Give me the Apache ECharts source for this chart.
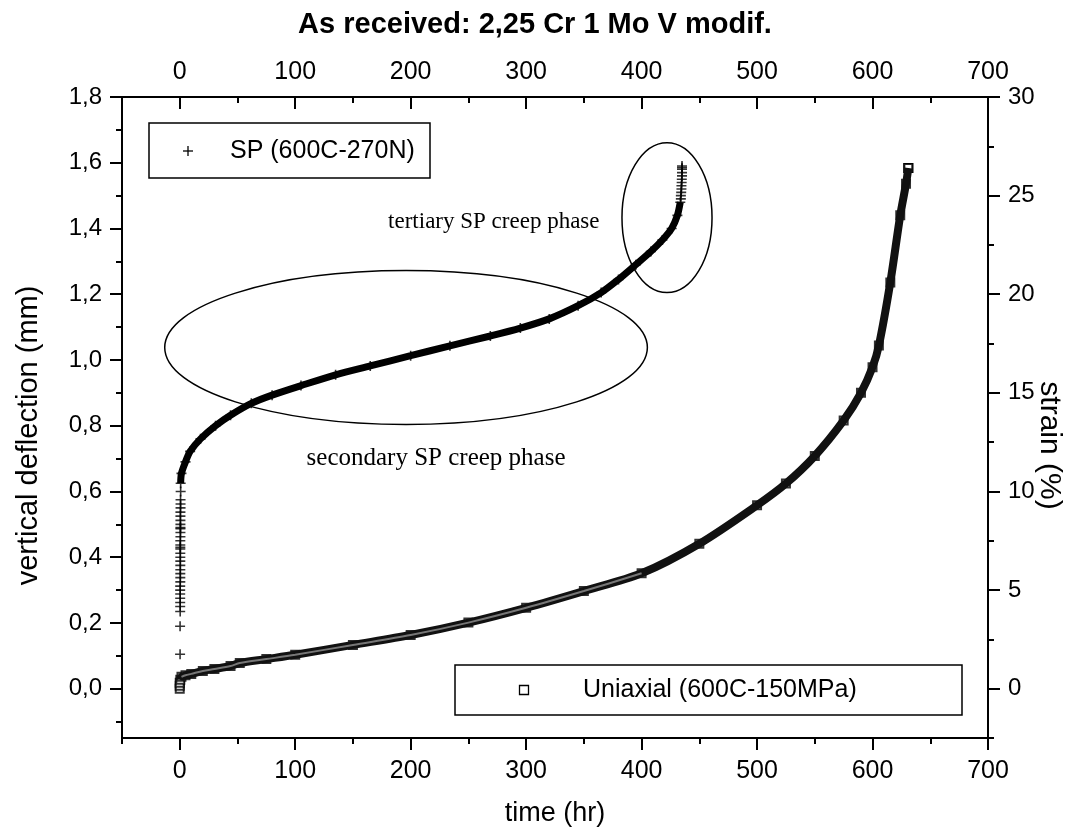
<!DOCTYPE html>
<html>
<head>
<meta charset="utf-8">
<title>As received: 2,25 Cr 1 Mo V modif.</title>
<script src="https://cdn.jsdelivr.net/npm/echarts@6/dist/echarts.min.js"></script>
<style>
  html, body { margin: 0; padding: 0; background: #fff; }
  #main { width: 1070px; height: 834px; }
</style>
</head>
<body>
<div id="main"></div>
<script>
// SP test (600C-270N): time (hr) vs vertical deflection (mm)
var spTime = [
  0.3, 0.3,
  0.4, 0.4, 0.4, 0.4, 0.4, 0.4, 0.4, 0.5, 0.5, 0.5, 0.5, 0.5, 0.5, 0.5, 0.5, 0.5,
  0.5, 0.5, 0.5, 0.6, 0.6, 0.6, 0.6, 0.6, 0.6, 0.6, 0.6, 0.7, 0.7, 0.7, 0.8, 0.8,
  1.5, 5, 9, 18, 31, 44, 62, 80, 105, 135, 165, 200, 234, 269, 295, 320,
  345, 365, 380, 395, 408, 418, 426, 431, 433.5,
  434, 434, 434.3, 434.5, 434.5, 434.7, 434.8, 435, 435, 435, 435, 435
];
var spDeflection = [
  0.105, 0.19,
  0.235, 0.25, 0.262, 0.275, 0.288, 0.30, 0.312, 0.325, 0.338, 0.35, 0.362, 0.375,
  0.388, 0.40, 0.412, 0.425, 0.43, 0.437, 0.45, 0.462, 0.475, 0.487, 0.49, 0.50,
  0.512, 0.525, 0.537, 0.55, 0.562, 0.575, 0.60, 0.625,
  0.655, 0.69, 0.722, 0.76, 0.80, 0.832, 0.868, 0.893, 0.922, 0.955, 0.982,
  1.013, 1.043, 1.073, 1.097, 1.125, 1.165, 1.205, 1.245, 1.29, 1.33, 1.365, 1.40,
  1.44, 1.48,
  1.49, 1.50, 1.51, 1.52, 1.53, 1.54, 1.55, 1.56, 1.57, 1.58, 1.585, 1.59
];
// where the crosses merge into a solid band
var spBandStart = 33, spBandEnd = 58;

// Uniaxial test (600C-150MPa): time (hr) vs strain (%)
var uniTime = [
  0, 0, 0, 0.5, 1.5, 5, 10, 20, 30, 44, 52, 75, 100, 150, 200, 250, 300, 350,
  400, 450, 500, 525, 550, 575, 590, 600, 605.5, 615.4, 624, 629, 631
];
var uniStrain = [
  0.0, 0.15, 0.3, 0.45, 0.6, 0.68, 0.75, 0.9, 1.0, 1.15, 1.3, 1.5, 1.72, 2.22,
  2.72, 3.35, 4.1, 4.95, 5.85, 7.35, 9.3, 10.4, 11.8, 13.6, 15.0, 16.3, 17.4,
  20.6, 24.0, 25.6, 26.4
];
var uniBandStart = 3, uniHollowEnd = 18;

// axes
var timeTicks = [0, 100, 200, 300, 400, 500, 600, 700];
var timeMinor = [-50, 50, 150, 250, 350, 450, 550, 650];
var deflTicks = [0, 0.2, 0.4, 0.6, 0.8, 1.0, 1.2, 1.4, 1.6, 1.8];
var deflMinor = [-0.1, 0.1, 0.3, 0.5, 0.7, 0.9, 1.1, 1.3, 1.5, 1.7];
var strainTicks = [0, 5, 10, 15, 20, 25, 30];
var strainMinor = [-2.5, 2.5, 7.5, 12.5, 17.5, 22.5, 27.5];

// annotations, in data coordinates (time, deflection)
var ellipses = [
  { t: 196, d: 1.038, rt: 209, rd: 0.234 },
  { t: 422, d: 1.433, rt: 39, rd: 0.228 }
];
var notes = [
  { text: 'tertiary SP creep phase', t: 272, d: 1.42, size: 23 },
  { text: 'secondary SP creep phase', t: 222, d: 0.70, size: 25 }
];

var SP_NAME = 'SP (600C-270N)';
var UNI_NAME = 'Uniaxial (600C-150MPa)';
var PLUS = 'path://M4.2,0H5.8V4.2H10V5.8H5.8V10H4.2V5.8H0V4.2H4.2Z';
var FONT = "'Liberation Sans', Arial, sans-serif";
var SERIF = "'Liberation Serif', 'Times New Roman', serif";

function zip(xs, ys, from, to) {
  var out = [];
  for (var i = from; i < to; i++) out.push([xs[i], ys[i]]);
  return out;
}

function comma(v) {
  return v.toFixed(1).replace('.', ',');
}

var myChart = echarts.init(document.getElementById('main'));

var axisLine = { show: true, onZero: false, lineStyle: { color: '#000', width: 2 } };
var noLine = { show: false, onZero: false };

function xAx(pos, values, len, inside, labels) {
  return {
    type: 'value', position: pos, min: -50, max: 700,
    axisLine: labels ? axisLine : noLine,
    splitLine: { show: false },
    axisTick: { show: true, customValues: values, length: len, inside: inside,
                lineStyle: { color: '#000', width: 2 } },
    axisLabel: labels ? { customValues: values, margin: pos === 'top' ? 12 : 21,
                          color: '#000', fontSize: 25, fontFamily: FONT }
                      : { show: false }
  };
}

function yAx(pos, min, max, values, len, labels, fmt) {
  return {
    type: 'value', position: pos, min: min, max: max,
    axisLine: labels ? axisLine : noLine,
    splitLine: { show: false },
    axisTick: { show: true, customValues: values, length: len,
                lineStyle: { color: '#000', width: 2 } },
    axisLabel: labels ? { customValues: values, margin: 20,
                          formatter: fmt, color: '#000', fontSize: 24, fontFamily: FONT }
                      : { show: false }
  };
}

var xMain = xAx('bottom', timeTicks, 12, false, true);
xMain.name = 'time (hr)';
xMain.nameLocation = 'middle';
xMain.nameGap = 62;
xMain.nameTextStyle = { color: '#000', fontSize: 27, fontFamily: FONT };

var yLeft = yAx('left', -0.15, 1.8, deflTicks, 12, true, comma);
yLeft.name = 'vertical deflection (mm)';
yLeft.nameLocation = 'middle';
yLeft.nameGap = 79;
yLeft.nameTextStyle = { color: '#000', fontSize: 29, fontFamily: FONT, padding: [0, 36, 0, 0] };

var yRight = yAx('right', -2.5, 30, strainTicks, 12, true, function (v) { return String(v); });
yRight.name = 'strain (%)';
yRight.nameLocation = 'middle';
yRight.nameRotate = -90;
yRight.nameGap = 46;
yRight.nameMoveOverlap = false;
yRight.nameTextStyle = { color: '#000', fontSize: 30, fontFamily: FONT, padding: [0, 0, 0, 56] };

var option = {
  backgroundColor: '#fff',
  animation: false,
  title: {
    text: 'As received: 2,25 Cr 1 Mo V modif.',
    left: 'center',
    top: 5,
    textStyle: { color: '#000', fontSize: 29, fontWeight: 'bold', fontFamily: FONT }
  },
  grid: { left: 122, right: 82, top: 97, bottom: 96, outerBoundsMode: 'none', containLabel: false },
  xAxis: [
    xMain,
    xAx('bottom', timeMinor, 6, false, false),
    xAx('top', timeTicks, 12, true, true),
    xAx('top', timeMinor, 6, true, false)
  ],
  yAxis: [
    yLeft,
    yAx('left', -0.15, 1.8, deflMinor, 6, false),
    yRight,
    yAx('right', -2.5, 30, strainMinor, 6, false)
  ],
  series: [
    {
      name: SP_NAME, type: 'scatter', xAxisIndex: 0, yAxisIndex: 0,
      symbol: PLUS, symbolSize: 10, itemStyle: { color: '#000' },
      data: zip(spTime, spDeflection, 0, spTime.length), z: 3
    },
    {
      name: SP_NAME, type: 'line', xAxisIndex: 0, yAxisIndex: 0,
      showSymbol: false, smooth: 0.3, itemStyle: { color: '#000' },
      lineStyle: { color: '#000', width: 7 },
      data: zip(spTime, spDeflection, spBandStart, spBandEnd + 1), z: 4
    },
    {
      name: UNI_NAME, type: 'scatter', xAxisIndex: 0, yAxisIndex: 2,
      symbol: 'emptyRect', symbolSize: 8,
      itemStyle: { color: '#000', borderColor: '#000', borderWidth: 1.3 },
      data: zip(uniTime, uniStrain, 0, uniTime.length), z: 5
    },
    {
      name: UNI_NAME, type: 'line', xAxisIndex: 0, yAxisIndex: 2,
      showSymbol: false, smooth: 0.3, itemStyle: { color: '#000' },
      lineStyle: { color: '#111', width: 8 },
      data: zip(uniTime, uniStrain, uniBandStart, uniTime.length), z: 6,
      // the last reading stays a visible hollow square
      markPoint: {
        symbol: 'emptyRect', symbolSize: 8, silent: true, label: { show: false },
        itemStyle: { color: '#000', borderColor: '#000', borderWidth: 1.3 },
        data: [{ coord: [uniTime[uniTime.length - 1], uniStrain[uniStrain.length - 1]] }]
      }
    },
    {
      // lighter core where the hollow squares are still apart
      name: UNI_NAME, type: 'line', xAxisIndex: 0, yAxisIndex: 2,
      showSymbol: false, smooth: 0.3, itemStyle: { color: '#000' },
      lineStyle: { color: '#777', width: 2 },
      data: zip(uniTime, uniStrain, uniBandStart + 1, uniHollowEnd + 1), z: 7
    }
  ]
};

myChart.setOption(option);

// legend boxes, ellipses and phase notes
function placeNotes() {
  var g = [];
  ellipses.forEach(function (e) {
    var c = myChart.convertToPixel({ xAxisIndex: 0, yAxisIndex: 0 }, [e.t, e.d]);
    var p = myChart.convertToPixel({ xAxisIndex: 0, yAxisIndex: 0 }, [e.t + e.rt, e.d + e.rd]);
    g.push({
      type: 'ellipse', z: 10,
      shape: { cx: c[0], cy: c[1], rx: p[0] - c[0], ry: c[1] - p[1] },
      style: { fill: 'none', stroke: '#000', lineWidth: 1.5 }
    });
  });
  notes.forEach(function (n) {
    var c = myChart.convertToPixel({ xAxisIndex: 0, yAxisIndex: 0 }, [n.t, n.d]);
    g.push({
      type: 'text', z: 10, x: c[0], y: c[1],
      style: { text: n.text, fill: '#000', align: 'center', verticalAlign: 'middle',
               font: n.size + 'px ' + SERIF }
    });
  });

  // legend 1: SP
  g.push({ type: 'rect', z: 20, shape: { x: 149, y: 123, width: 281, height: 55 },
           style: { fill: '#fff', stroke: '#000', lineWidth: 1.5 } });
  g.push({ type: 'line', z: 21, shape: { x1: 183, y1: 151, x2: 193, y2: 151 },
           style: { stroke: '#000', lineWidth: 1.3 } });
  g.push({ type: 'line', z: 21, shape: { x1: 188, y1: 146, x2: 188, y2: 156 },
           style: { stroke: '#000', lineWidth: 1.3 } });
  g.push({ type: 'text', z: 21, x: 230, y: 151,
           style: { text: SP_NAME, fill: '#000', verticalAlign: 'middle', font: '25px ' + FONT } });

  // legend 2: Uniaxial
  g.push({ type: 'rect', z: 20, shape: { x: 455, y: 665, width: 507, height: 50 },
           style: { fill: '#fff', stroke: '#000', lineWidth: 1.5 } });
  g.push({ type: 'rect', z: 21, shape: { x: 519.5, y: 685.5, width: 9, height: 9 },
           style: { fill: '#fff', stroke: '#000', lineWidth: 1.3 } });
  g.push({ type: 'text', z: 21, x: 583, y: 690,
           style: { text: UNI_NAME, fill: '#000', verticalAlign: 'middle', font: '25px ' + FONT } });

  myChart.setOption({ graphic: g });
}
placeNotes();

window.onresize = function () {
  myChart.resize();
  placeNotes();
};
</script>
</body>
</html>
